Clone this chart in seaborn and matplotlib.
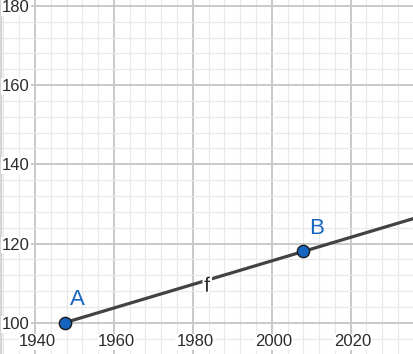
import numpy as np
import pandas as pd
import matplotlib
matplotlib.use("Agg")
import matplotlib.pyplot as plt
import matplotlib.transforms as mtransforms
import matplotlib.patheffects as pe
from matplotlib.ticker import MultipleLocator
import seaborn as sns

# ---- data ----
point_names = ["A", "B"]
point_x = [1947.5, 2008.0]
point_y = [100.0, 118.0]
line_name = "f"
x_ticks = [1940, 1960, 1980, 2000, 2020]
y_ticks = [100, 120, 140, 160, 180]

sns.set_style("white")
plt.rcParams['font.family'] = ['Liberation Sans', 'DejaVu Sans']

fig = plt.figure(figsize=(4.14, 3.54), dpi=100)
ax = fig.add_axes([0, 0, 1, 1])
xlim = (1931.13, 2036.04)
ylim = (92.1, 181.5)
ax.set_xlim(*xlim)
ax.set_ylim(*ylim)

ax.xaxis.set_major_locator(MultipleLocator(20))
ax.xaxis.set_minor_locator(MultipleLocator(4))
ax.yaxis.set_major_locator(MultipleLocator(20))
ax.yaxis.set_minor_locator(MultipleLocator(4))
ax.grid(which='major', color='#c9c9c9', lw=1.4)
ax.grid(which='minor', color='#e9e9e9', lw=0.9)
ax.set_axisbelow(True)
ax.tick_params(which='both', length=0, labelbottom=False, labelleft=False)
for s in ax.spines.values():
    s.set_visible(False)

# left edge border
ax.axvline(xlim[0], color='#d4d4d4', lw=2.5, zorder=1)

# ray from A through B to the right edge
slope = (point_y[1] - point_y[0]) / (point_x[1] - point_x[0])
x_end = xlim[1] + 2
df_line = pd.DataFrame({"x": [point_x[0], x_end],
                        "y": [point_y[0], point_y[0] + slope * (x_end - point_x[0])]})
sns.lineplot(data=df_line, x="x", y="y", color='#424242', lw=2.3, ax=ax, sort=False, zorder=3)

# points
df_pts = pd.DataFrame({"name": point_names, "x": point_x, "y": point_y})
sns.scatterplot(data=df_pts, x="x", y="y", color='#1565c0', s=78,
                edgecolor='#1a1a1a', linewidth=1.0, ax=ax, zorder=5)
ax.set_xlabel("")
ax.set_ylabel("")

for n, x, y in zip(point_names, point_x, point_y):
    ax.annotate(n, (x, y), xytext=(13, 23), textcoords='offset pixels',
                ha='center', va='center', color='#1565c0', fontsize=16, zorder=6)

# line label f
fx = 1983.6
ax.annotate(line_name, (fx, point_y[0] + slope * (fx - point_x[0])), xytext=(0, -6),
            textcoords='offset pixels', ha='center', va='center', color='#2b2b2b',
            fontsize=15, zorder=6,
            path_effects=[pe.withStroke(linewidth=3, foreground='white')])

# tick labels
tx = mtransforms.blended_transform_factory(ax.transData, ax.transAxes)
for xv in x_ticks:
    ax.text(xv + 0.5, 0.034, str(xv), transform=tx, ha='center', va='center',
            fontsize=12, color='#2b2b2b', zorder=4,
            bbox=dict(fc='white', ec='none', pad=0.6))
ty = mtransforms.blended_transform_factory(ax.transAxes, ax.transData)
for yv in y_ticks:
    ax.annotate(str(yv), (30 / 414, yv), xycoords=ty, xytext=(0, -1.5),
                textcoords='offset pixels', ha='right', va='center',
                fontsize=12, color='#2b2b2b', zorder=4,
                bbox=dict(fc='white', ec='none', pad=0.6))

fig.savefig("out.png", dpi=100)
